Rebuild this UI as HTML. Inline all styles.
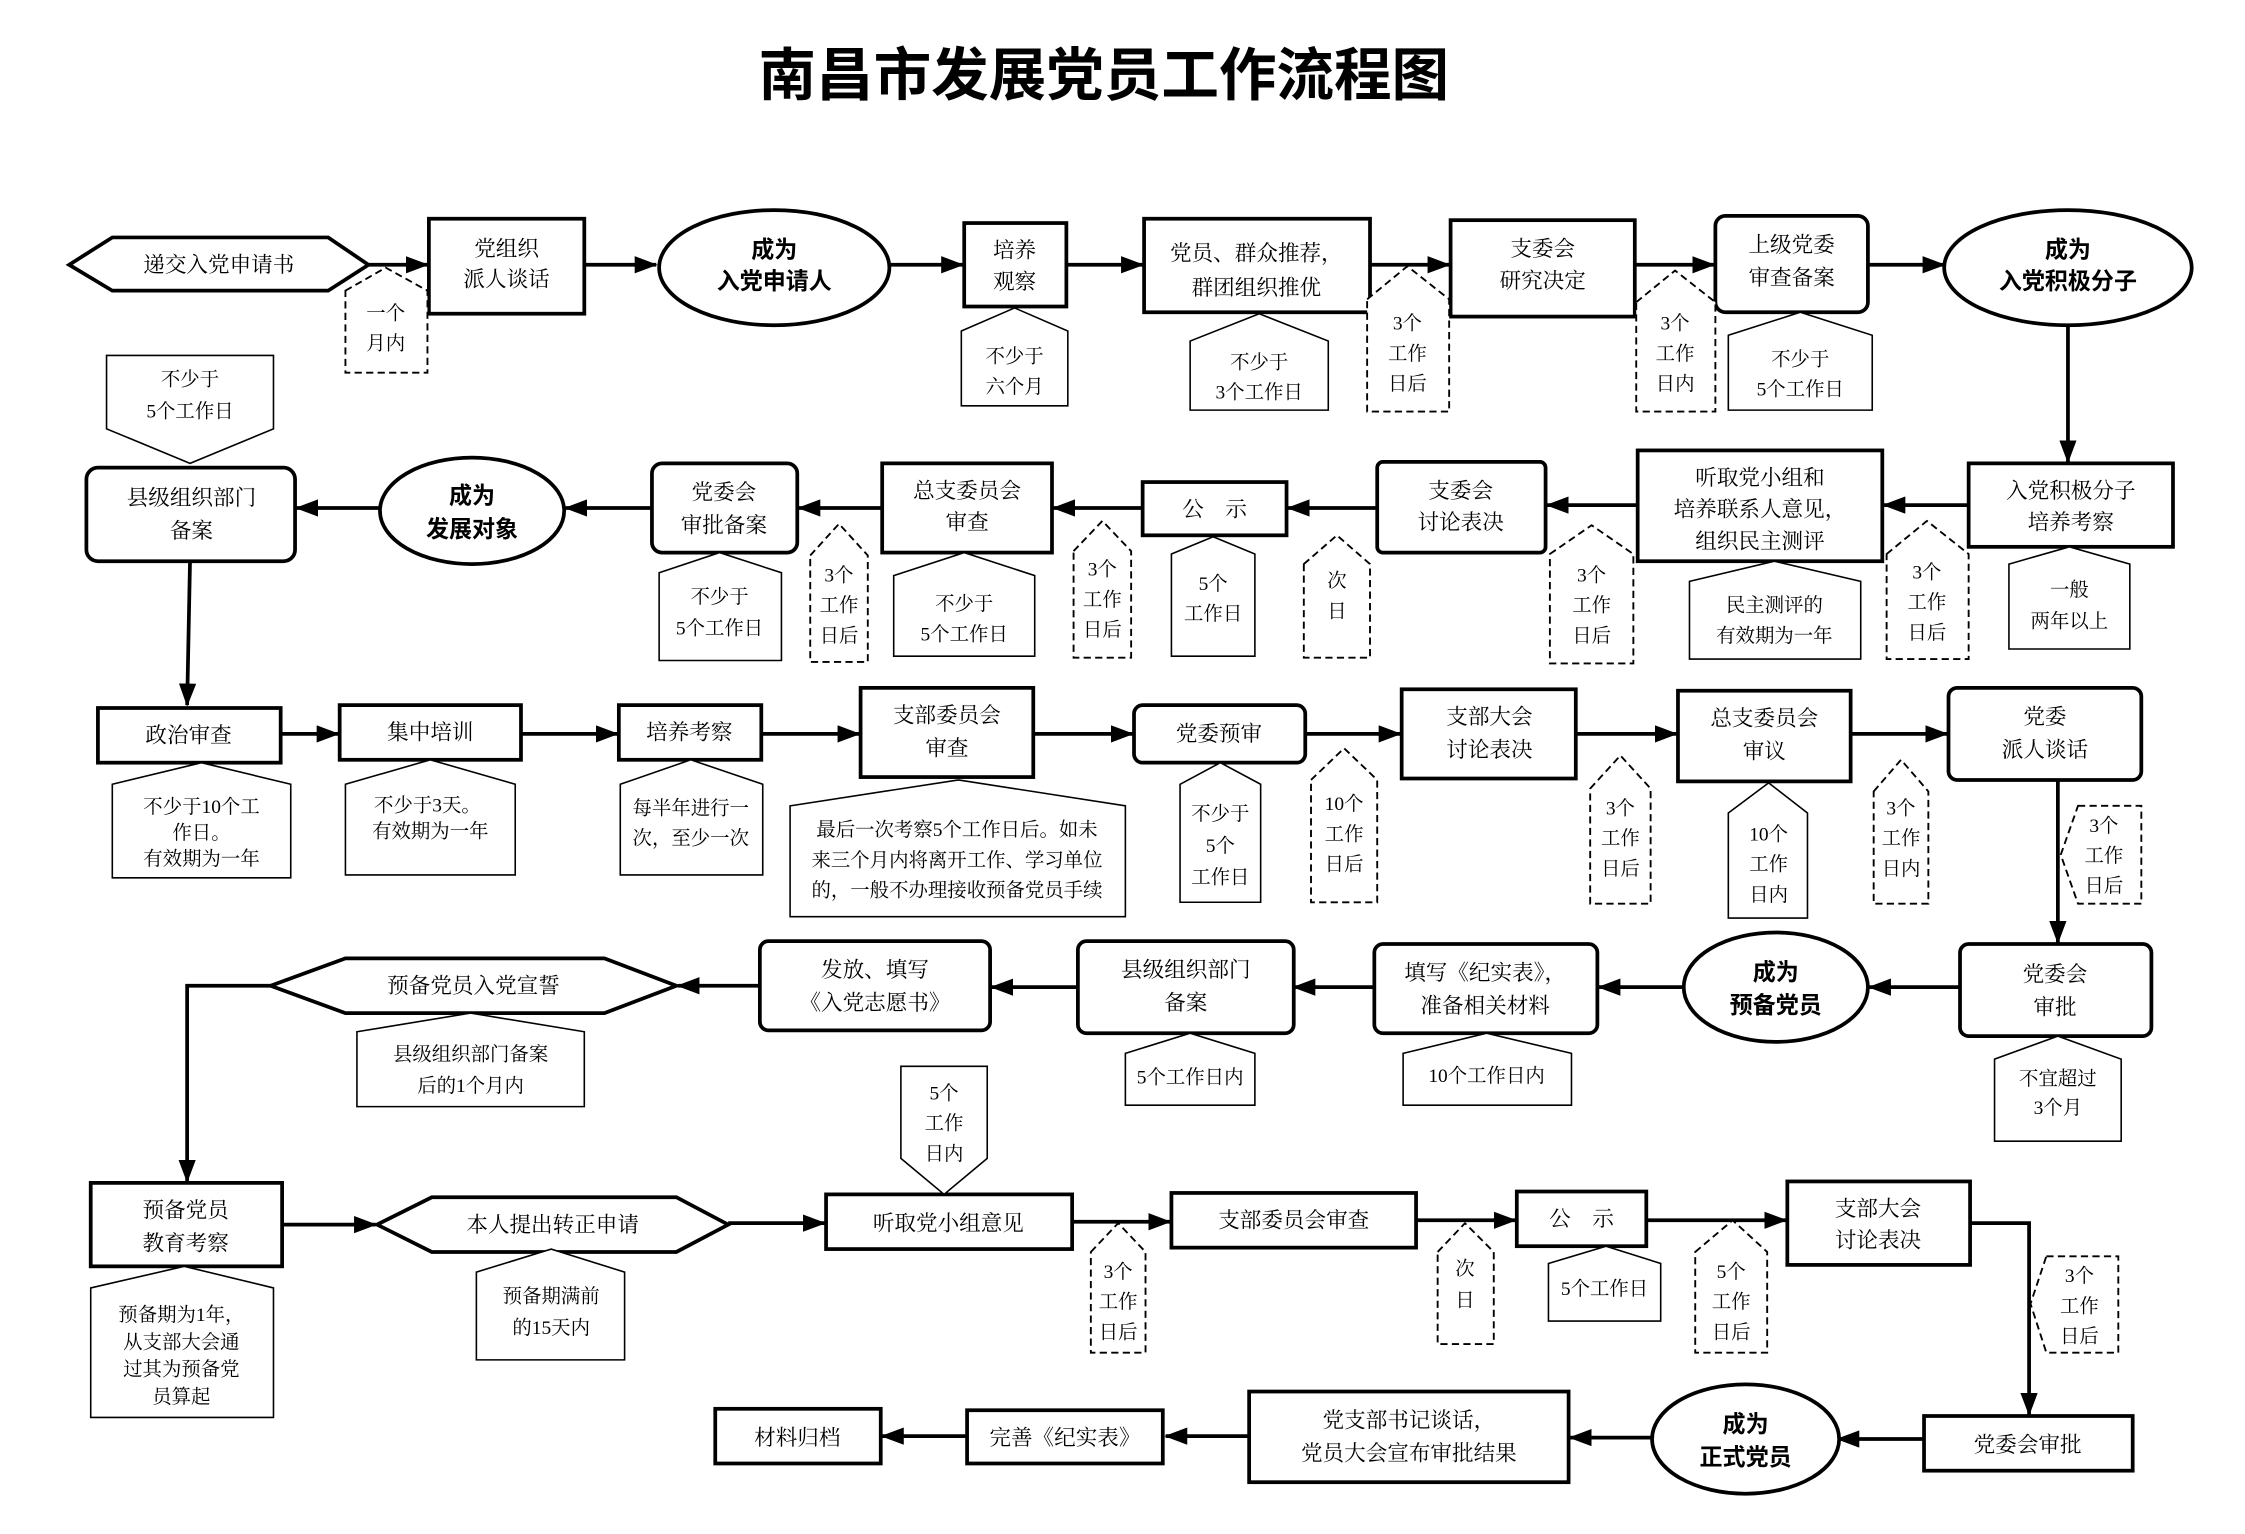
<!DOCTYPE html>
<html><head><meta charset="utf-8"><style>
html,body{margin:0;padding:0;background:#fff}
svg{display:block}
text{font-family:"Liberation Serif","Noto Serif CJK SC",serif;font-size:15px;fill:#000;text-anchor:middle}
.t{font-family:"Liberation Sans","Noto Sans CJK SC",sans-serif;font-weight:bold;font-size:40px}
.e{font-family:"Liberation Sans","Noto Sans CJK SC",sans-serif;font-weight:bold;font-size:16px}
.s{font-size:13.5px}
.b{fill:#fff;stroke:#000;stroke-width:2.6}
.n{fill:#fff;stroke:#000;stroke-width:1.1}
.d{fill:#fff;stroke:#000;stroke-width:1.3;stroke-dasharray:5 3}
.a{stroke:#000;stroke-width:2.6;fill:none;marker-end:url(#ah)}
</style></head><body>
<svg width="2245" height="1534" viewBox="0 0 1560 1066" xmlns="http://www.w3.org/2000/svg">
<defs><marker id="ah" markerUnits="userSpaceOnUse" markerWidth="16" markerHeight="12" refX="15" refY="6" orient="auto"><path d="M0,0 L16,6 L0,12 z" fill="#000"/></marker></defs>
<text class="t" x="767" y="66">南昌市发展党员工作流程图</text>

<!-- Row 1 -->
<polygon class="b" points="48,184 78,165 228,165 256,184 228,202 78,202"/>
<text x="152" y="189">递交入党申请书</text>
<line class="a" x1="256" y1="184" x2="297" y2="184"/>
<rect class="b" x="298" y="152" width="108" height="66" stroke-width="3"/>
<text x="352" y="178">党组织</text><text x="352" y="199">派人谈话</text>
<line class="a" x1="407" y1="184" x2="456" y2="184"/>
<ellipse class="b" cx="538" cy="186" rx="80" ry="40"/>
<text class="e" x="538" y="179">成为</text><text class="e" x="538" y="201">入党申请人</text>
<line class="a" x1="618" y1="184" x2="669" y2="184"/>
<rect class="b" x="670" y="155" width="71" height="58"/>
<text x="705" y="179">培养</text><text x="705" y="201">观察</text>
<line class="a" x1="741" y1="184" x2="794" y2="184"/>
<rect class="b" x="795" y="152" width="157" height="65"/>
<text x="873" y="181">党员、群众推荐，</text><text x="873" y="205">群团组织推优</text>
<line class="a" x1="952" y1="184" x2="1007" y2="184"/>
<rect class="b" x="1008" y="153" width="128" height="67"/>
<text x="1072" y="178">支委会</text><text x="1072" y="200">研究决定</text>
<line class="a" x1="1136" y1="184" x2="1191" y2="184"/>
<rect class="b" x="1192" y="150" width="106" height="67" rx="7"/>
<text x="1245" y="175">上级党委</text><text x="1245" y="198">审查备案</text>
<line class="a" x1="1298" y1="184" x2="1351" y2="184"/>
<ellipse class="b" cx="1437" cy="186" rx="86" ry="40"/>
<text class="e" x="1437" y="179">成为</text><text class="e" x="1437" y="201">入党积极分子</text>

<polygon class="d" points="240,202 268,186 297,202 297,259 240,259"/>
<text class="s" x="268" y="222">一个</text><text class="s" x="268" y="243">月内</text>
<polygon class="n" points="668,230 705,214 742,230 742,282 668,282"/>
<text class="s" x="705" y="252">不少于</text><text class="s" x="705" y="273">六个月</text>
<polygon class="n" points="827,237 875,218 923,237 923,285 827,285"/>
<text class="s" x="875" y="256">不少于</text><text class="s" x="875" y="277">3个工作日</text>
<polygon class="d" points="950,208 978,185 1007,208 1007,286 950,286"/>
<text class="s" x="978" y="229">3个</text><text class="s" x="978" y="250">工作</text><text class="s" x="978" y="271">日后</text>
<polygon class="d" points="1137,210 1164,188 1192,210 1192,286 1137,286"/>
<text class="s" x="1164" y="229">3个</text><text class="s" x="1164" y="250">工作</text><text class="s" x="1164" y="271">日内</text>
<polygon class="n" points="1201,233 1251,217 1301,233 1301,285 1201,285"/>
<text class="s" x="1251" y="254">不少于</text><text class="s" x="1251" y="275">5个工作日</text>

<line class="a" x1="1437" y1="226" x2="1437" y2="321"/>

<!-- Row 2 -->
<rect class="b" x="1368" y="322" width="142" height="58"/>
<text x="1439" y="346">入党积极分子</text><text x="1439" y="368">培养考察</text>
<line class="a" x1="1368" y1="351" x2="1309" y2="351"/>
<rect class="b" x="1138" y="313" width="170" height="77"/>
<text x="1223" y="337">听取党小组和</text><text x="1223" y="359">培养联系人意见，</text><text x="1223" y="381">组织民主测评</text>
<line class="a" x1="1138" y1="351" x2="1075" y2="351"/>
<rect class="b" x="957" y="321" width="117" height="63" rx="4"/>
<text x="1015" y="346">支委会</text><text x="1015" y="368">讨论表决</text>
<line class="a" x1="957" y1="353" x2="895" y2="353"/>
<rect class="b" x="794" y="335" width="100" height="37"/>
<text x="844" y="359">公　示</text>
<line class="a" x1="794" y1="353" x2="732" y2="353"/>
<rect class="b" x="613" y="322" width="118" height="62"/>
<text x="672" y="346">总支委员会</text><text x="672" y="368">审查</text>
<line class="a" x1="613" y1="353" x2="555" y2="353"/>
<rect class="b" x="453" y="322" width="101" height="62" rx="7"/>
<text x="503" y="347">党委会</text><text x="503" y="370">审批备案</text>
<line class="a" x1="453" y1="353" x2="393" y2="353"/>
<ellipse class="b" cx="328" cy="355" rx="64" ry="37"/>
<text class="e" x="328" y="350">成为</text><text class="e" x="328" y="373">发展对象</text>
<line class="a" x1="264" y1="353" x2="206" y2="353"/>
<rect class="b" x="60" y="325" width="145" height="65" rx="8"/>
<text x="133" y="351">县级组织部门</text><text x="133" y="374">备案</text>
<polygon class="n" points="74,247 190,247 190,298 132,322 74,298"/>
<text class="s" x="132" y="268">不少于</text><text class="s" x="132" y="290">5个工作日</text>
<line class="a" x1="132" y1="390" x2="130" y2="490"/>

<polygon class="n" points="1396,392 1438,380 1480,392 1480,451 1396,451"/>
<text class="s" x="1438" y="414">一般</text><text class="s" x="1438" y="436">两年以上</text>
<polygon class="d" points="1311,385 1339,362 1368,385 1368,458 1311,458"/>
<text class="s" x="1339" y="402">3个</text><text class="s" x="1339" y="423">工作</text><text class="s" x="1339" y="444">日后</text>
<polygon class="n" points="1174,404 1233,390 1293,404 1293,458 1174,458"/>
<text class="s" x="1233" y="425">民主测评的</text><text class="s" x="1233" y="446">有效期为一年</text>
<polygon class="d" points="1077,385 1106,365 1135,385 1135,461 1077,461"/>
<text class="s" x="1106" y="404">3个</text><text class="s" x="1106" y="425">工作</text><text class="s" x="1106" y="446">日后</text>
<polygon class="d" points="906,392 929,372 952,392 952,457 906,457"/>
<text class="s" x="929" y="408">次</text><text class="s" x="929" y="429">日</text>
<polygon class="n" points="814,385 843,373 872,385 872,456 814,456"/>
<text class="s" x="843" y="410">5个</text><text class="s" x="843" y="431">工作日</text>
<polygon class="d" points="746,383 766,362 786,383 786,457 746,457"/>
<text class="s" x="766" y="400">3个</text><text class="s" x="766" y="421">工作</text><text class="s" x="766" y="442">日后</text>
<polygon class="n" points="621,400 670,384 719,400 719,456 621,456"/>
<text class="s" x="670" y="424">不少于</text><text class="s" x="670" y="445">5个工作日</text>
<polygon class="d" points="563,386 583,364 603,386 603,460 563,460"/>
<text class="s" x="583" y="404">3个</text><text class="s" x="583" y="425">工作</text><text class="s" x="583" y="446">日后</text>
<polygon class="n" points="458,398 500,384 543,398 543,459 458,459"/>
<text class="s" x="500" y="419">不少于</text><text class="s" x="500" y="441">5个工作日</text>

<!-- Row 3 -->
<rect class="b" x="68" y="492" width="127" height="38"/>
<text x="131" y="516">政治审查</text>
<line class="a" x1="195" y1="510" x2="235" y2="510"/>
<rect class="b" x="236" y="490" width="126" height="38"/>
<text x="299" y="514">集中培训</text>
<line class="a" x1="362" y1="510" x2="429" y2="510"/>
<rect class="b" x="430" y="490" width="99" height="38"/>
<text x="479" y="514">培养考察</text>
<line class="a" x1="529" y1="510" x2="597" y2="510"/>
<rect class="b" x="598" y="478" width="120" height="62"/>
<text x="658" y="502">支部委员会</text><text x="658" y="525">审查</text>
<line class="a" x1="718" y1="510" x2="787" y2="510"/>
<rect class="b" x="788" y="490" width="119" height="40" rx="6"/>
<text x="847" y="515">党委预审</text>
<line class="a" x1="907" y1="510" x2="973" y2="510"/>
<rect class="b" x="974" y="479" width="121" height="62"/>
<text x="1035" y="503">支部大会</text><text x="1035" y="526">讨论表决</text>
<line class="a" x1="1095" y1="510" x2="1165" y2="510"/>
<rect class="b" x="1166" y="480" width="120" height="63"/>
<text x="1226" y="504">总支委员会</text><text x="1226" y="527">审议</text>
<line class="a" x1="1286" y1="510" x2="1353" y2="510"/>
<rect class="b" x="1354" y="478" width="134" height="64" rx="6"/>
<text x="1421" y="503">党委</text><text x="1421" y="526">派人谈话</text>
<line class="a" x1="1430" y1="542" x2="1430" y2="655"/>

<polygon class="n" points="78,545 140,530 202,545 202,610 78,610"/>
<text class="s" x="140" y="565">不少于10个工</text><text class="s" x="140" y="583">作日。</text><text class="s" x="140" y="601">有效期为一年</text>
<polygon class="n" points="240,545 299,528 358,545 358,608 240,608"/>
<text class="s" x="297" y="564">不少于3天。</text><text class="s" x="299" y="582">有效期为一年</text>
<polygon class="n" points="431,545 480,528 530,545 530,608 431,608"/>
<text class="s" x="480" y="566">每半年进行一</text><text class="s" x="480" y="587">次，至少一次</text>
<polygon class="n" points="549,560 666,542 782,560 782,637 549,637"/>
<text class="s" x="665" y="581">最后一次考察5个工作日后。如未</text><text class="s" x="665" y="602">来三个月内将离开工作、学习单位</text><text class="s" x="665" y="623">的，一般不办理接收预备党员手续</text>
<polygon class="n" points="820,545 848,530 876,545 876,627 820,627"/>
<text class="s" x="848" y="570">不少于</text><text class="s" x="848" y="592">5个</text><text class="s" x="848" y="614">工作日</text>
<polygon class="d" points="911,542 934,520 957,542 957,627 911,627"/>
<text class="s" x="934" y="563">10个</text><text class="s" x="934" y="584">工作</text><text class="s" x="934" y="605">日后</text>
<polygon class="d" points="1105,548 1126,525 1147,548 1147,628 1105,628"/>
<text class="s" x="1126" y="566">3个</text><text class="s" x="1126" y="587">工作</text><text class="s" x="1126" y="608">日后</text>
<polygon class="n" points="1201,565 1229,544 1256,565 1256,638 1201,638"/>
<text class="s" x="1229" y="584">10个</text><text class="s" x="1229" y="605">工作</text><text class="s" x="1229" y="626">日内</text>
<polygon class="d" points="1302,550 1321,528 1340,550 1340,628 1302,628"/>
<text class="s" x="1321" y="566">3个</text><text class="s" x="1321" y="587">工作</text><text class="s" x="1321" y="608">日内</text>
<polygon class="d" points="1444,560 1488,560 1488,628 1444,628 1432,594"/>
<text class="s" x="1462" y="578">3个</text><text class="s" x="1462" y="599">工作</text><text class="s" x="1462" y="620">日后</text>

<!-- Row 4 -->
<rect class="b" x="1362" y="656" width="133" height="64" rx="6"/>
<text x="1428" y="682">党委会</text><text x="1428" y="705">审批</text>
<line class="a" x1="1362" y1="686" x2="1299" y2="686"/>
<ellipse class="b" cx="1234" cy="686" rx="64" ry="38"/>
<text class="e" x="1234" y="681">成为</text><text class="e" x="1234" y="704">预备党员</text>
<line class="a" x1="1170" y1="686" x2="1111" y2="686"/>
<rect class="b" x="955" y="656" width="155" height="62" rx="6"/>
<text x="1032" y="681">填写《纪实表》，</text><text x="1032" y="704">准备相关材料</text>
<line class="a" x1="955" y1="686" x2="899" y2="686"/>
<rect class="b" x="749" y="654" width="150" height="64" rx="6"/>
<text x="824" y="679">县级组织部门</text><text x="824" y="702">备案</text>
<line class="a" x1="749" y1="686" x2="689" y2="686"/>
<rect class="b" x="528" y="654" width="160" height="62" rx="6"/>
<text x="608" y="679">发放、填写</text><text x="608" y="702">《入党志愿书》</text>
<line class="a" x1="528" y1="685" x2="471" y2="685"/>
<polygon class="b" points="188,685 240,666 420,666 470,685 420,704 240,704"/>
<text x="329" y="690">预备党员入党宣誓</text>
<polyline class="a" points="188,685 130,685 130,821"/>

<polygon class="n" points="1386,736 1430,720 1474,736 1474,793 1386,793"/>
<text class="s" x="1430" y="754">不宜超过</text><text class="s" x="1430" y="774">3个月</text>
<polygon class="n" points="975,732 1033,718 1092,732 1092,768 975,768"/>
<text class="s" x="1033" y="752">10个工作日内</text>
<polygon class="n" points="782,732 827,718 872,732 872,768 782,768"/>
<text class="s" x="827" y="753">5个工作日内</text>
<polygon class="n" points="248,717 327,704 406,717 406,769 248,769"/>
<text class="s" x="327" y="737">县级组织部门备案</text><text class="s" x="327" y="759">后的1个月内</text>

<!-- Row 5 -->
<rect class="b" x="63" y="822" width="133" height="58"/>
<text x="129" y="846">预备党员</text><text x="129" y="869">教育考察</text>
<line class="a" x1="196" y1="851" x2="261" y2="851"/>
<polygon class="b" points="262,851 300,832 470,832 506,851 470,870 300,870"/>
<text x="384" y="856">本人提出转正申请</text>
<line class="a" x1="506" y1="850" x2="573" y2="850"/>
<rect class="b" x="574" y="830" width="171" height="38"/>
<text x="659" y="855">听取党小组意见</text>
<polygon class="n" points="626,741 686,741 686,805 656,830 626,805"/>
<text class="s" x="656" y="764">5个</text><text class="s" x="656" y="785">工作</text><text class="s" x="656" y="806">日内</text>
<line class="a" x1="745" y1="849" x2="813" y2="849"/>
<rect class="b" x="814" y="829" width="170" height="38"/>
<text x="899" y="853">支部委员会审查</text>
<line class="a" x1="984" y1="848" x2="1053" y2="848"/>
<rect class="b" x="1054" y="828" width="90" height="38"/>
<text x="1099" y="852">公　示</text>
<line class="a" x1="1144" y1="848" x2="1241" y2="848"/>
<rect class="b" x="1242" y="821" width="127" height="58"/>
<text x="1305" y="845">支部大会</text><text x="1305" y="867">讨论表决</text>
<polyline class="a" points="1369,850 1410,850 1410,983"/>

<polygon class="n" points="63,895 128,880 190,895 190,985 63,985"/>
<text class="s" x="126" y="918">预备期为1年，</text><text class="s" x="126" y="937">从支部大会通</text><text class="s" x="126" y="956">过其为预备党</text><text class="s" x="126" y="975">员算起</text>
<polygon class="n" points="331,884 383,868 434,884 434,945 331,945"/>
<text class="s" x="383" y="905">预备期满前</text><text class="s" x="383" y="927">的15天内</text>
<polygon class="d" points="758,870 777,850 796,870 796,940 758,940"/>
<text class="s" x="777" y="888">3个</text><text class="s" x="777" y="909">工作</text><text class="s" x="777" y="930">日后</text>
<polygon class="d" points="999,870 1018,850 1038,870 1038,934 999,934"/>
<text class="s" x="1018" y="886">次</text><text class="s" x="1018" y="908">日</text>
<polygon class="n" points="1076,878 1116,866 1154,878 1154,918 1076,918"/>
<text class="s" x="1115" y="900">5个工作日</text>
<polygon class="d" points="1178,870 1204,848 1228,870 1228,940 1178,940"/>
<text class="s" x="1203" y="888">5个</text><text class="s" x="1203" y="909">工作</text><text class="s" x="1203" y="930">日后</text>
<polygon class="d" points="1422,873 1472,873 1472,940 1422,940 1411,906"/>
<text class="s" x="1445" y="891">3个</text><text class="s" x="1445" y="912">工作</text><text class="s" x="1445" y="933">日后</text>

<!-- Row 6 -->
<rect class="b" x="1337" y="984" width="145" height="38"/>
<text x="1409" y="1009">党委会审批</text>
<line class="a" x1="1337" y1="1000" x2="1277" y2="1000"/>
<ellipse class="b" cx="1213" cy="1000" rx="65" ry="38"/>
<text class="e" x="1213" y="995">成为</text><text class="e" x="1213" y="1018">正式党员</text>
<line class="a" x1="1148" y1="999" x2="1091" y2="999"/>
<rect class="b" x="868" y="967" width="222" height="63"/>
<text x="979" y="992">党支部书记谈话，</text><text x="979" y="1015">党员大会宣布审批结果</text>
<line class="a" x1="868" y1="998" x2="810" y2="998"/>
<rect class="b" x="672" y="980" width="136" height="37"/>
<text x="740" y="1004">完善《纪实表》</text>
<line class="a" x1="672" y1="998" x2="613" y2="998"/>
<rect class="b" x="497" y="979" width="115" height="38"/>
<text x="554" y="1004">材料归档</text>
</svg>
</body></html>
